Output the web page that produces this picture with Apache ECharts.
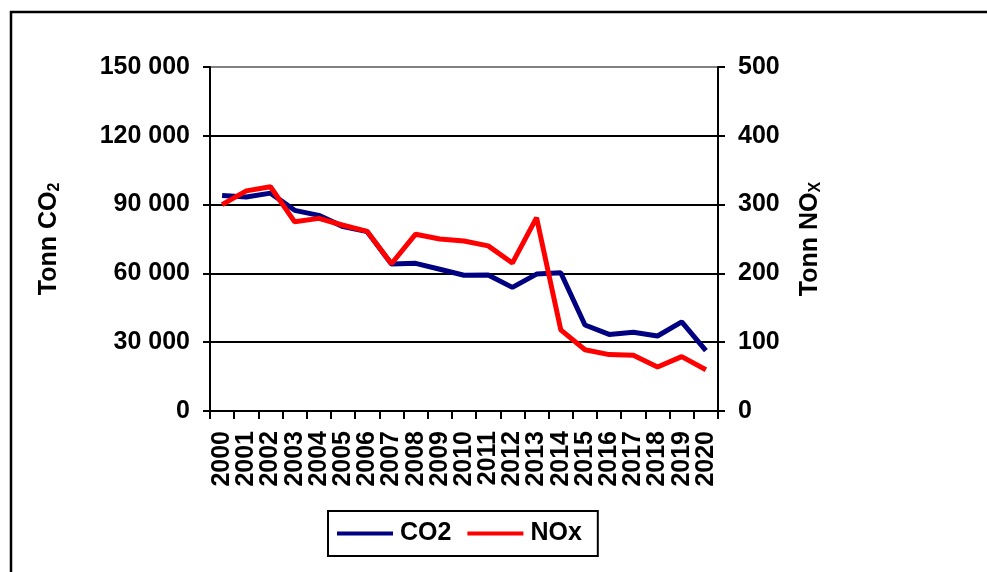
<!DOCTYPE html>
<html>
<head>
<meta charset="utf-8">
<script src="https://cdn.jsdelivr.net/npm/echarts@6/dist/echarts.min.js"></script>
<style>
html,body{margin:0;padding:0;background:#fff;}
#chart{width:987px;height:572px;}
</style>
</head>
<body>
<div id="chart"></div>
<script>
const years = ['2000','2001','2002','2003','2004','2005','2006','2007','2008','2009','2010','2011','2012','2013','2014','2015','2016','2017','2018','2019','2020'];
const co2 = [94000,93300,95000,87500,85300,80400,78200,64100,64400,61800,59200,59300,53900,59700,60300,37500,33400,34300,32700,38900,26300];
const nox = [300,320,326,275,280,270,261,214,257,250,247,240,215,281,118,89,82,81,64,79,60];
const leftTicks = {min:0, max:150000, interval:30000};
const rightTicks = {min:0, max:500, interval:100};

const FONT = '"Liberation Sans", Arial, sans-serif';
const chart = echarts.init(document.getElementById('chart'));
function fmtSpace(v){ return String(v).replace(/\B(?=(\d{3})+(?!\d))/g,' '); }
const base = {fontFamily: FONT, fontWeight: 'bold', fontSize: 25, color: '#000'};

chart.setOption({
  animation: false,
  backgroundColor: '#fff',
  graphic: [{
    type: 'rect', shape: {x: 11, y: 12, width: 1100, height: 700},
    style: {fill: 'none', stroke: '#000', lineWidth: 2.5}, silent: true, z: -1
  }],
  grid: {left: 210, right: 269, top: 67, bottom: 161, containLabel: false},
  legend: {
    data: ['CO2','NOx'],
    left: 328, top: 511,
    icon: 'rect', itemWidth: 56, itemHeight: 4, itemGap: 16,
    borderColor: '#000', borderWidth: 2,
    padding: [10, 16, 10, 9],
    textStyle: Object.assign({}, base, {padding: [0,0,0,2]})
  },
  xAxis: {
    type: 'category', data: years, boundaryGap: true,
    axisLine: {lineStyle: {color: '#000', width: 2}},
    axisTick: {show: true, length: 8, inside: false, lineStyle: {color: '#000', width: 2}},
    axisLabel: Object.assign({}, base, {rotate: 90, margin: 20, interval: 0}),
    splitLine: {show: false}
  },
  yAxis: [{
    type: 'value', position: 'left',
    min: leftTicks.min, max: leftTicks.max, interval: leftTicks.interval,
    name: 'Tonn CO{sub|2}', nameLocation: 'middle', nameRotate: 90, nameGap: 147,
    nameTextStyle: Object.assign({}, base, {rich: {sub: Object.assign({}, base, {fontSize: 16, padding: [12,0,0,0]})}}),
    axisLine: {show: true, lineStyle: {color: '#000', width: 2}},
    axisTick: {show: true, length: 7, lineStyle: {color: '#000', width: 2}},
    axisLabel: Object.assign({}, base, {margin: 20, formatter: fmtSpace}),
    splitLine: {show: true, lineStyle: {color: ['#000','#000','#000','#000','#000','#808080'], width: 2}}
  }, {
    type: 'value', position: 'right',
    min: rightTicks.min, max: rightTicks.max, interval: rightTicks.interval,
    name: 'Tonn NO{sub|X}', nameLocation: 'middle', nameRotate: 90, nameGap: 78,
    nameTextStyle: Object.assign({}, base, {rich: {sub: Object.assign({}, base, {fontSize: 16, padding: [12,0,0,0]})}}),
    axisLine: {show: true, lineStyle: {color: '#000', width: 2}},
    axisTick: {show: true, length: 7, lineStyle: {color: '#000', width: 2}},
    axisLabel: Object.assign({}, base, {margin: 20}),
    splitLine: {show: false}
  }],
  series: [{
    name: 'CO2', type: 'line', yAxisIndex: 0, data: co2,
    symbol: 'none', lineStyle: {color: '#000080', width: 5}, itemStyle: {color: '#000080'}, z: 2
  }, {
    name: 'NOx', type: 'line', yAxisIndex: 1, data: nox,
    symbol: 'none', lineStyle: {color: '#ff0000', width: 5}, itemStyle: {color: '#ff0000'}, z: 3
  }]
});
</script>
</body>
</html>
